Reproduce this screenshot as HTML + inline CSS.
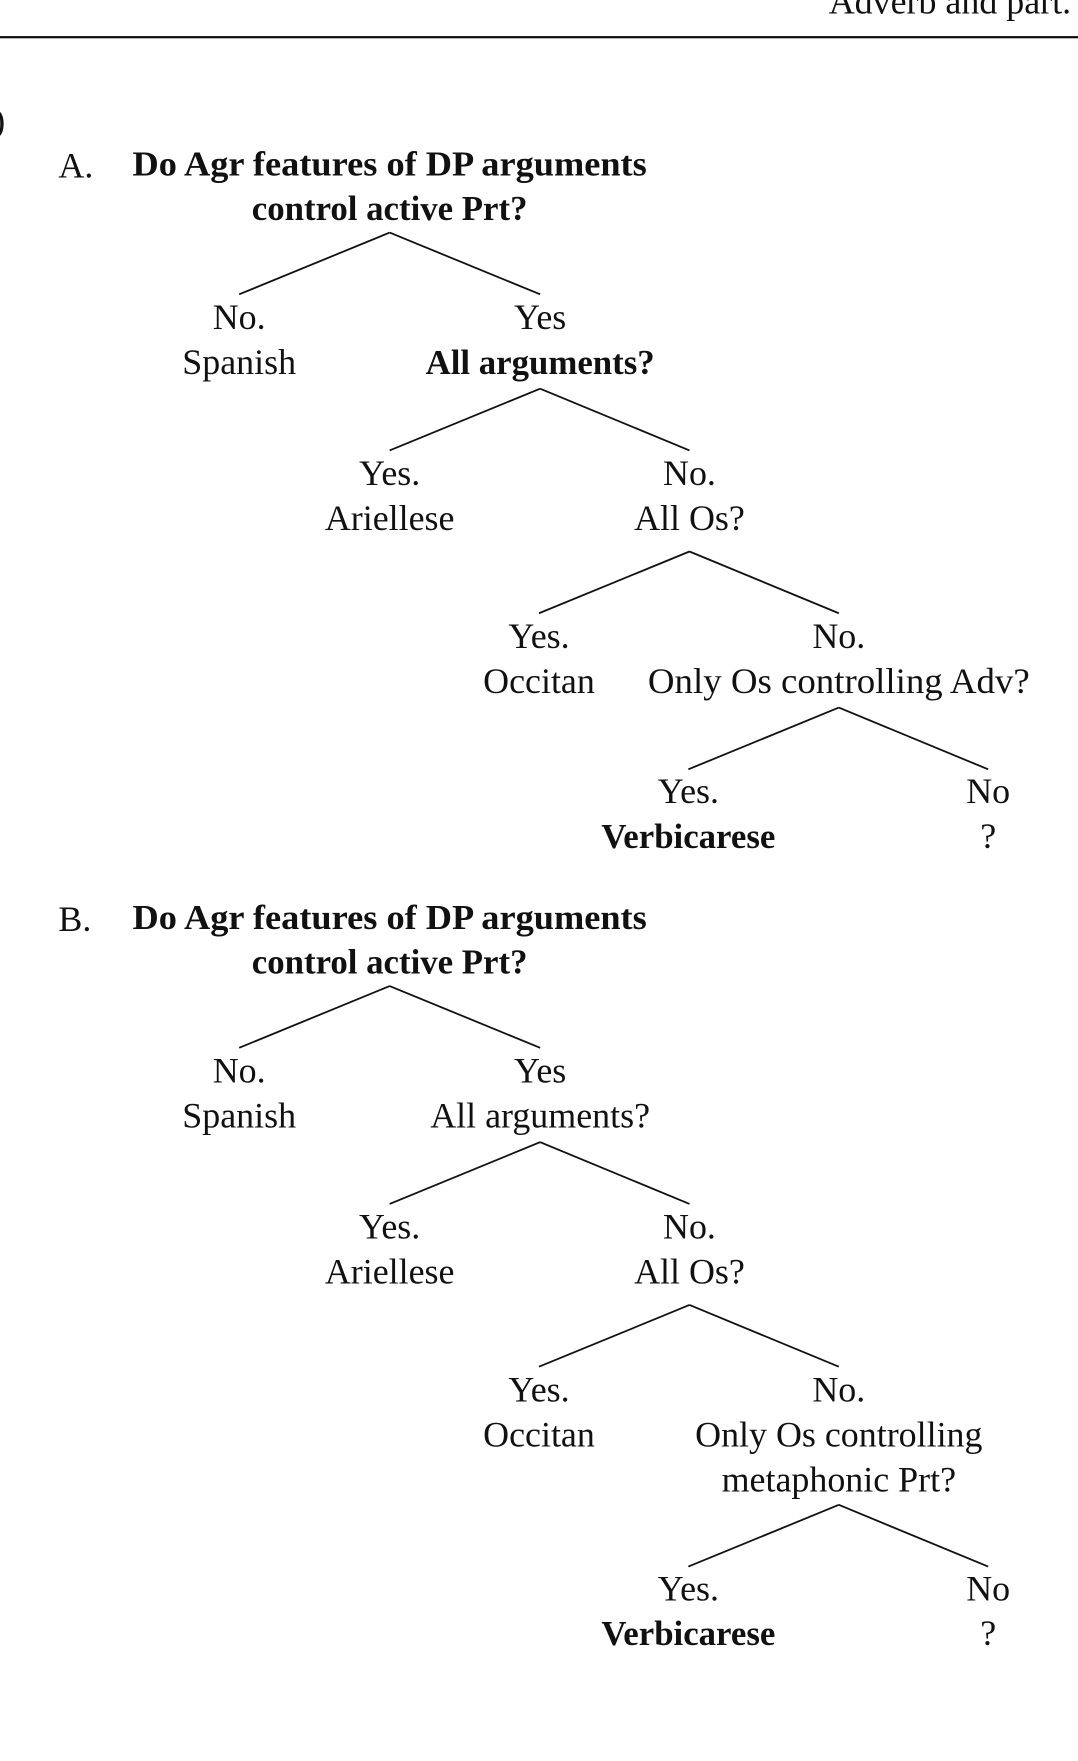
<!DOCTYPE html>
<html><head><meta charset="utf-8"><style>
html,body{margin:0;padding:0;background:#fff;}
svg{display:block;}
text{font-family:"Liberation Serif",serif;font-size:32px;fill:#111;}
.b{font-weight:bold;font-size:31px;}
line{stroke:#111;stroke-width:1.6;}
</style></head><body>
<svg width="1078" height="1761" viewBox="0 0 960 1568" xmlns="http://www.w3.org/2000/svg">
<rect width="960" height="1568" fill="#fff"/>
<text x="738" y="12">Adverb and part.</text>
<rect x="0" y="32" width="960" height="2" fill="#111"/>
<text x="-6" y="118">)</text>

<g>
<text x="52" y="158">A.</text>
<text x="118" y="156" class="b" textLength="458" lengthAdjust="spacingAndGlyphs">Do Agr features of DP arguments</text>
<text x="347" y="196" class="b" text-anchor="middle">control active Prt?</text>
<line x1="347" y1="207" x2="213" y2="262"/><line x1="347" y1="207" x2="481" y2="262"/>
<text x="213" y="293" text-anchor="middle">No.</text>
<text x="213" y="333" text-anchor="middle">Spanish</text>
<text x="481" y="293" text-anchor="middle">Yes</text>
<text x="481" y="333" text-anchor="middle" class="b">All arguments?</text>
<line x1="481" y1="346" x2="347" y2="401"/><line x1="481" y1="346" x2="614" y2="401"/>
<text x="347" y="432" text-anchor="middle">Yes.</text>
<text x="347" y="472" text-anchor="middle">Ariellese</text>
<text x="614" y="432" text-anchor="middle">No.</text>
<text x="614" y="472" text-anchor="middle">All Os?</text>
<line x1="614" y1="491" x2="480" y2="546"/><line x1="614" y1="491" x2="747" y2="546"/>
<text x="480" y="577" text-anchor="middle">Yes.</text>
<text x="480" y="617" text-anchor="middle">Occitan</text>
<text x="747" y="577" text-anchor="middle">No.</text>
<text x="747" y="617" text-anchor="middle" textLength="340" lengthAdjust="spacingAndGlyphs">Only Os controlling Adv?</text>
<line x1="747" y1="630" x2="613" y2="685"/><line x1="747" y1="630" x2="880" y2="685"/>
<text x="613" y="715" text-anchor="middle">Yes.</text>
<text x="613" y="755" text-anchor="middle" class="b">Verbicarese</text>
<text x="880" y="715" text-anchor="middle">No</text>
<text x="880" y="755" text-anchor="middle">?</text>
</g>

<g>
<text x="52" y="829">B.</text>
<text x="118" y="827" class="b" textLength="458" lengthAdjust="spacingAndGlyphs">Do Agr features of DP arguments</text>
<text x="347" y="867" class="b" text-anchor="middle">control active Prt?</text>
<line x1="347" y1="878" x2="213" y2="933"/><line x1="347" y1="878" x2="481" y2="933"/>
<text x="213" y="964" text-anchor="middle">No.</text>
<text x="213" y="1004" text-anchor="middle">Spanish</text>
<text x="481" y="964" text-anchor="middle">Yes</text>
<text x="481" y="1004" text-anchor="middle">All arguments?</text>
<line x1="481" y1="1017" x2="347" y2="1072"/><line x1="481" y1="1017" x2="614" y2="1072"/>
<text x="347" y="1103" text-anchor="middle">Yes.</text>
<text x="347" y="1143" text-anchor="middle">Ariellese</text>
<text x="614" y="1103" text-anchor="middle">No.</text>
<text x="614" y="1143" text-anchor="middle">All Os?</text>
<line x1="614" y1="1162" x2="480" y2="1217"/><line x1="614" y1="1162" x2="747" y2="1217"/>
<text x="480" y="1248" text-anchor="middle">Yes.</text>
<text x="480" y="1288" text-anchor="middle">Occitan</text>
<text x="747" y="1248" text-anchor="middle">No.</text>
<text x="747" y="1288" text-anchor="middle">Only Os controlling</text>
<text x="747" y="1328" text-anchor="middle">metaphonic Prt?</text>
<line x1="747" y1="1340" x2="613" y2="1395"/><line x1="747" y1="1340" x2="880" y2="1395"/>
<text x="613" y="1425" text-anchor="middle">Yes.</text>
<text x="613" y="1465" text-anchor="middle" class="b">Verbicarese</text>
<text x="880" y="1425" text-anchor="middle">No</text>
<text x="880" y="1465" text-anchor="middle">?</text>
</g>
</svg>
</body></html>
